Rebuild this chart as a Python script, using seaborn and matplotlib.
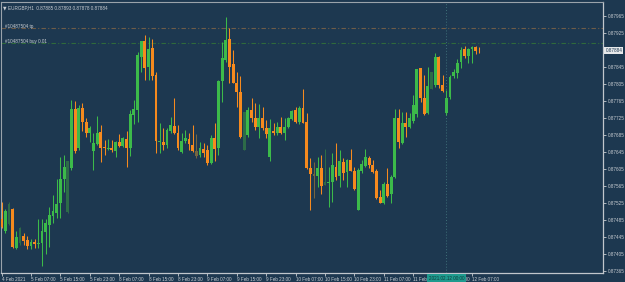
import numpy as np
import pandas as pd
import matplotlib
matplotlib.use("Agg")
import matplotlib.pyplot as plt
import matplotlib.transforms as mtransforms
import seaborn as sns

# ---- data (prices in 1e-5 units, EURGBP H1) ----
opens = [87487, 87459, 87476, 87511, 87419, 87431, 87447, 87438, 87424, 87433,
         87428, 87431, 87457, 87473, 87494, 87501, 87525, 87581, 87504, 87607,
         87746, 87654, 87748, 87716, 87690, 87647, 87664, 87692, 87657, 87652,
         87654, 87647, 87668, 87659, 87676, 87654, 87732, 87744, 87868, 87906,
         87845, 87890, 87826, 87668, 87668, 87661, 87694, 87706, 87690, 87645,
         87671, 87676, 87661, 87647, 87638, 87652, 87650, 87619, 87678, 87654,
         87812, 87861, 87911, 87852, 87807, 87786, 87650, 87685, 87744, 87725,
         87704, 87725, 87701, 87633, 87694, 87690, 87704, 87690, 87704, 87723,
         87744, 87716, 87748, 87716, 87607, 87593, 87588, 87607, 87567, 87572,
         87574, 87610, 87588, 87621, 87598, 87626, 87600, 87509, 87600, 87612,
         87631, 87614, 87600, 87539, 87525, 87570, 87546, 87586, 87725, 87666,
         87713, 87704, 87718, 87734, 87843, 87772, 87737, 87793, 87803, 87868,
         87803, 87737, 87774, 87824, 87831, 87857, 87887, 87871, 87887, 87892,
         87885]
highs = [87527, 87511, 87527, 87513, 87459, 87468, 87454, 87447, 87440, 87440,
         87487, 87487, 87487, 87516, 87544, 87581, 87633, 87638, 87624, 87767,
         87765, 87756, 87760, 87725, 87706, 87690, 87730, 87709, 87673, 87676,
         87673, 87671, 87687, 87680, 87694, 87744, 87767, 87880, 87906, 87920,
         87915, 87911, 87833, 87713, 87701, 87701, 87727, 87772, 87709, 87690,
         87697, 87690, 87709, 87687, 87668, 87666, 87661, 87685, 87713, 87814,
         87904, 87963, 87937, 87885, 87833, 87824, 87739, 87751, 87772, 87760,
         87758, 87751, 87720, 87723, 87713, 87716, 87727, 87725, 87727, 87744,
         87751, 87753, 87793, 87737, 87631, 87621, 87633, 87638, 87652, 87610,
         87643, 87666, 87650, 87631, 87629, 87652, 87610, 87607, 87626, 87652,
         87636, 87626, 87605, 87556, 87574, 87607, 87591, 87746, 87746, 87739,
         87739, 87737, 87779, 87840, 87843, 87826, 87845, 87833, 87878, 87871,
         87826, 87791, 87826, 87840, 87864, 87892, 87894, 87890, 87894, 87894,
         87893]
lows = [87466, 87454, 87473, 87419, 87417, 87426, 87426, 87417, 87417, 87419,
        87419, 87377, 87405, 87421, 87478, 87490, 87490, 87551, 87501, 87603,
        87643, 87650, 87694, 87680, 87668, 87603, 87661, 87621, 87638, 87650,
        87645, 87633, 87657, 87657, 87610, 87636, 87711, 87716, 87833, 87814,
        87814, 87814, 87643, 87643, 87650, 87654, 87690, 87687, 87650, 87643,
        87666, 87650, 87645, 87631, 87633, 87633, 87614, 87617, 87624, 87638,
        87763, 87857, 87807, 87807, 87751, 87678, 87650, 87680, 87716, 87697,
        87678, 87697, 87678, 87624, 87685, 87685, 87687, 87673, 87701, 87720,
        87713, 87711, 87713, 87605, 87509, 87537, 87563, 87546, 87567, 87516,
        87527, 87579, 87563, 87579, 87563, 87600, 87556, 87509, 87596, 87610,
        87607, 87596, 87534, 87525, 87523, 87539, 87525, 87584, 87654, 87664,
        87680, 87701, 87713, 87727, 87763, 87732, 87734, 87793, 87798, 87796,
        87786, 87732, 87770, 87819, 87819, 87843, 87866, 87854, 87854, 87876,
        87878]
closes = [87468, 87506, 87523, 87421, 87445, 87466, 87436, 87424, 87433, 87428,
          87431, 87459, 87478, 87497, 87506, 87523, 87581, 87610, 87624, 87746,
          87647, 87748, 87716, 87690, 87701, 87666, 87690, 87654, 87654, 87654,
          87650, 87668, 87659, 87678, 87654, 87734, 87746, 87873, 87906, 87843,
          87887, 87824, 87671, 87671, 87661, 87697, 87709, 87690, 87654, 87671,
          87678, 87664, 87647, 87636, 87654, 87643, 87619, 87678, 87652, 87812,
          87866, 87908, 87845, 87807, 87786, 87680, 87739, 87744, 87725, 87704,
          87725, 87701, 87687, 87701, 87690, 87704, 87690, 87704, 87725, 87741,
          87716, 87748, 87713, 87607, 87593, 87588, 87607, 87565, 87574, 87574,
          87614, 87586, 87624, 87596, 87626, 87600, 87558, 87603, 87617, 87633,
          87614, 87598, 87537, 87525, 87570, 87541, 87586, 87725, 87668, 87713,
          87704, 87725, 87756, 87840, 87772, 87734, 87800, 87833, 87868, 87803,
          87788, 87772, 87821, 87833, 87854, 87885, 87871, 87887, 87892, 87883,
          87884]
dim_bars = [2, 5, 18, 53, 66, 85, 88, 117]

y_ticks = [87365 + 40 * k for k in range(16)]
x_tick_bars = [0, 8, 16, 24, 32, 40, 48, 56, 64, 72, 80, 88, 96, 104, 112, 120, 128]
x_tick_labels = ["4 Feb 2021", "5 Feb 07:00", "5 Feb 15:00", "5 Feb 23:00",
                 "8 Feb 07:00", "8 Feb 15:00", "8 Feb 23:00", "9 Feb 07:00",
                 "9 Feb 15:00", "9 Feb 23:00", "10 Feb 07:00", "10 Feb 15:00",
                 "10 Feb 23:00", "11 Feb 07:00", "11 Feb 15:00", "11 Feb 23:00",
                 "12 Feb 07:00"]
tp_level = 87937
buy_level = 87902
current_price = 87884
cursor_bar = 121
cursor_label = "2021.02.12 00:00"
title = "EURGBP,H1  0.87885 0.87893 0.87878 0.87884"

SCALE = 1e-5
df = pd.DataFrame({"open": np.array(opens) * SCALE, "high": np.array(highs) * SCALE,
                   "low": np.array(lows) * SCALE, "close": np.array(closes) * SCALE})
df["bar"] = np.arange(len(df))
df["dim"] = df["bar"].isin(dim_bars)
df["bull"] = df["close"] >= df["open"]

# ---- styling ----
BG = "#1d3850"
FG = "#c9cdd2"
GREEN, ORANGE = "#3cba4a", "#f68a1e"
DGREEN, DORANGE = "#2d6b48", "#76653f"
FONT = ["Liberation Sans", "DejaVu Sans"]
FS = 3.3

sns.set_theme(style="dark", rc={"axes.facecolor": BG, "figure.facecolor": BG})
plt.rcParams["font.family"] = FONT

W, H = 625, 282
fig = plt.figure(figsize=(W / 100, H / 100), dpi=100)
L, R, T, B = 1, 603, 2, 272.5
ax = fig.add_axes([L / W, 1 - B / H, (R - L) / W, (B - T) / H])
ax.set_facecolor(BG)

px_per_bar = 3.675
x0 = 1.6
ax.set_xlim((L - x0) / px_per_bar, (R - x0) / px_per_bar)
top_price = 0.87965 + (16 - T) * 0.0004 / 17
bot_price = 0.87965 - (B - 16) * 0.0004 / 17
ax.set_ylim(bot_price, top_price)

def col(row):
    if row.dim:
        return DGREEN if row.bull else DORANGE
    return GREEN if row.bull else ORANGE

colors = [col(r) for r in df.itertuples()]
# wicks
ax.vlines(df["bar"], df["low"], df["high"], colors=colors, linewidth=0.75, zorder=2)
# bodies
body_bottom = np.minimum(df["open"], df["close"])
body_h = np.maximum(np.abs(df["close"] - df["open"]), 0.000012)
ax.bar(df["bar"], body_h, bottom=body_bottom, width=0.78, color=colors,
       linewidth=0, zorder=3)

# order lines
ax.axhline(tp_level * SCALE, color="#6e5c48", lw=0.8, ls=(0, (4, 2, 1, 2)), zorder=1)
ax.axhline(buy_level * SCALE, color="#2f6a3c", lw=0.8, ls=(0, (4, 2, 1, 2)), zorder=1)
ax.text(1.0, tp_level * SCALE + 0.00003, "#10487504 tp", color=FG, fontsize=FS,
        va="center", ha="left")
ax.text(1.0, buy_level * SCALE + 0.00003, "#10487504 buy 0.01", color=FG, fontsize=FS,
        va="center", ha="left")

# cursor line
ax.axvline(cursor_bar, color="#3e6f78", lw=0.7, ls=(0, (1, 2)), zorder=1)

# title
ax.text(0.004, 0.988, "\u25BC", transform=ax.transAxes, color=FG,
        fontsize=FS, va="top", ha="left", family="DejaVu Sans")
ax.text(0.012, 0.988, title, transform=ax.transAxes, color=FG,
        fontsize=FS, va="top", ha="left")

# axes frame
for s in ["left", "top"]:
    ax.spines[s].set_color("#9aa3ab")
    ax.spines[s].set_linewidth(0.8)
for s in ["right", "bottom"]:
    ax.spines[s].set_color("#c0c6cc")
    ax.spines[s].set_linewidth(0.9)

# y ticks
ax.yaxis.tick_right()
ax.set_yticks([v * SCALE for v in y_ticks])
ax.set_yticklabels(["" if v == 87885 else f"{v * SCALE:.5f}" for v in y_ticks])
ax.tick_params(axis="y", colors=FG, labelsize=FS, length=2, width=0.6, pad=1.2,
               direction="out", right=True, left=False)

# x ticks
ax.set_xticks(x_tick_bars)
ax.set_xticklabels(x_tick_labels, ha="left")
ax.tick_params(axis="x", colors=FG, labelsize=FS, length=2, width=0.6, pad=1.0,
               direction="out", bottom=True)
ax.grid(False)

# current price label
ax.text(1.004, current_price * SCALE, f"{current_price * SCALE:.5f}",
        transform=mtransforms.blended_transform_factory(ax.transAxes, ax.transData),
        color=BG, fontsize=FS, va="center", ha="left",
        bbox=dict(boxstyle="square,pad=0.25", fc="#e6e8ea", ec="none"))

# cursor time label
ax.text(cursor_bar, -0.012, cursor_label,
        transform=mtransforms.blended_transform_factory(ax.transData, ax.transAxes),
        color="#0f3a3a", fontsize=FS, va="top", ha="center", zorder=10,
        bbox=dict(boxstyle="square,pad=0.35", fc="#1e9a8e", ec="none"), clip_on=False)

fig.savefig("out.png", dpi=100, facecolor=BG)
